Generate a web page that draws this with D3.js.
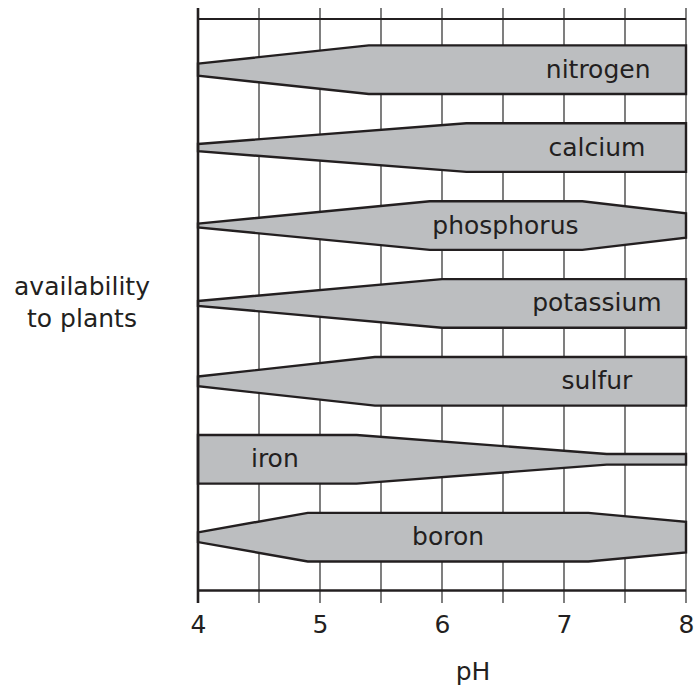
<!DOCTYPE html>
<html>
<head>
<meta charset="utf-8">
<script src="https://cdn.jsdelivr.net/npm/d3@7"></script>
<style>
  html, body { margin: 0; padding: 0; background: #ffffff; }
  svg { display: block; }
  text { font-family: "DejaVu Sans", sans-serif; fill: #231f20; }
</style>
</head>
<body>
<svg id="chart" width="694" height="691"></svg>
<script>
// ---- data ----
const elements = ["nitrogen", "calcium", "phosphorus", "potassium", "sulfur", "iron", "boron"];
// availability profiles: [pH, relative availability (1 = full band)]
const nitrogenProfile   = [[4, 0.25], [5.4, 1], [8, 1]];
const calciumProfile    = [[4, 0.15], [6.2, 1], [8, 1]];
const phosphorusProfile = [[4, 0.08], [5.9, 1], [7.15, 1], [8, 0.5]];
const potassiumProfile  = [[4, 0.1], [6.0, 1], [8, 1]];
const sulfurProfile     = [[4, 0.2], [5.45, 1], [8, 1]];
const ironProfile       = [[4, 1], [5.3, 1], [7.35, 0.22], [8, 0.22]];
const boronProfile      = [[4, 0.2], [4.9, 1], [7.2, 1], [8, 0.63]];
const profiles = [nitrogenProfile, calciumProfile, phosphorusProfile, potassiumProfile,
                  sulfurProfile, ironProfile, boronProfile];
const labelPH = [7.28, 7.27, 6.52, 7.27, 7.27, 4.63, 6.05];
const tickLabels = [4, 5, 6, 7, 8];
const gridTicks = [4, 4.5, 5, 5.5, 6, 6.5, 7, 7.5, 8];
const xTitle = "pH";
const yTitle = ["availability", "to plants"];

// ---- scales ----
const svg = d3.select("#chart");
const x = d3.scaleLinear().domain([4, 8]).range([198, 686]);
const y = d3.scalePoint().domain(elements).range([69.7, 537.2]);
const hw = d3.scaleLinear().domain([0, 1]).range([0, 24.3]);
const frameTop = 19, frameBottom = 590.5;
const ink = "#231f20";

// grid lines (with ticks extending above and below)
svg.append("g").selectAll("line").data(gridTicks).join("line")
  .attr("x1", d => x(d)).attr("x2", d => x(d))
  .attr("y1", 8).attr("y2", 603)
  .attr("stroke", "#3a3a3a").attr("stroke-width", 1.3);

// top frame line
svg.append("line").attr("x1", x(4)).attr("x2", x(8)).attr("y1", frameTop).attr("y2", frameTop)
  .attr("stroke", ink).attr("stroke-width", 2.2);

// bands
const line = d3.line().x(d => x(d[0])).y(d => d[1]);
const bands = svg.append("g");
elements.forEach((el, i) => {
  const p = profiles[i];
  const cy = y(el);
  const pts = p.map(d => [d[0], cy - hw(d[1])])
    .concat(p.slice().reverse().map(d => [d[0], cy + hw(d[1])]));
  bands.append("path")
    .attr("d", line(pts) + "Z")
    .attr("fill", "#bcbec0")
    .attr("stroke", ink)
    .attr("stroke-width", 2.4)
    .attr("stroke-linejoin", "miter");
  bands.append("text")
    .attr("x", x(labelPH[i])).attr("y", cy + 8)
    .attr("text-anchor", "middle")
    .attr("font-size", 25)
    .text(el);
});

// left axis line (pH 4)
svg.append("line").attr("x1", x(4)).attr("x2", x(4)).attr("y1", 8).attr("y2", 603)
  .attr("stroke", ink).attr("stroke-width", 2.6);

// bottom axis
const xAxis = d3.axisBottom(x).tickValues(tickLabels).tickSize(0).tickPadding(0).tickFormat(d3.format("d"));
const ax = svg.append("g").attr("transform", `translate(0,${frameBottom})`).call(xAxis);
ax.select(".domain").remove();
ax.selectAll("text").attr("font-size", 25).attr("dy", null).attr("y", 42)
  .attr("font-family", "DejaVu Sans").attr("fill", ink);
svg.append("line").attr("x1", x(4)).attr("x2", x(8)).attr("y1", frameBottom).attr("y2", frameBottom)
  .attr("stroke", ink).attr("stroke-width", 2.6);

// titles
svg.append("text").attr("x", 473).attr("y", 680).attr("text-anchor", "middle")
  .attr("font-size", 25).text(xTitle);
svg.append("text").attr("x", 82).attr("y", 295).attr("text-anchor", "middle")
  .attr("font-size", 25)
  .selectAll("tspan").data(yTitle).join("tspan")
  .attr("x", 82).attr("dy", (d, i) => i === 0 ? 0 : 32).text(d => d);
</script>
</body>
</html>
